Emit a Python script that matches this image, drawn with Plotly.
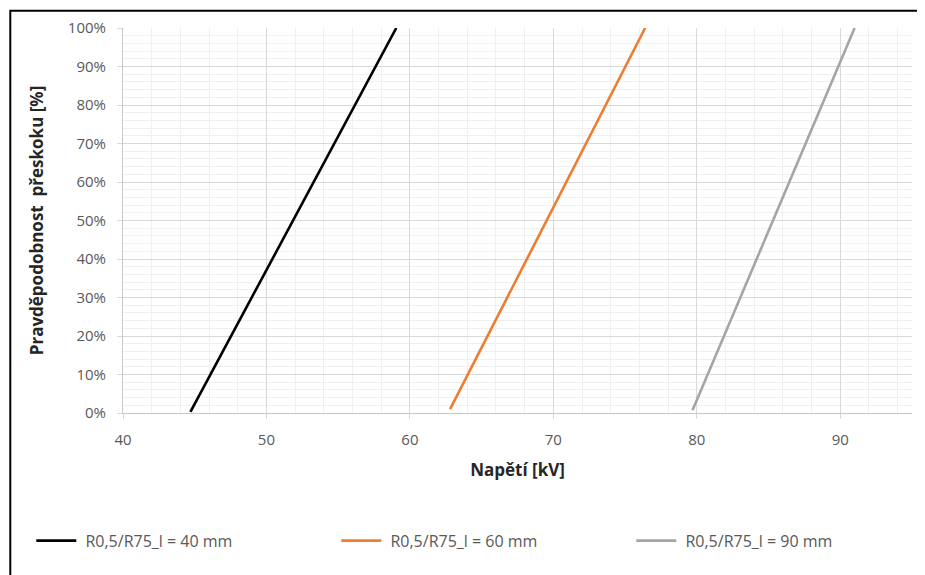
import plotly.graph_objects as go

# Data (voltage kV vs. flashover probability %)
series_names = ["R0,5/R75_l = 40 mm", "R0,5/R75_l = 60 mm", "R0,5/R75_l = 90 mm"]
x_40 = [44.7, 59.05]
y_40 = [0.3, 100]
x_60 = [62.8, 76.4]
y_60 = [1.0, 100]
x_90 = [79.7, 91.0]
y_90 = [0.7, 100]
colors = ["#000000", "#ED7D31", "#A5A5A5"]

y_ticks = list(range(0, 101, 10))
y_ticklabels = [f"{v}%" for v in y_ticks]

W, H = 925, 575
OFF = 8  # page body margin
# plot area in window pixels
PL, PR, PT, PB = 122.7, 911.7, 28.3, 413.3
L = PL - OFF
T = PT - OFF
R = W - (PR - OFF)
B = H - (PB - OFF)
pw, ph = PR - PL, PB - PT

def px2x(p):
    return (p - PL) / pw

def py2y(p):
    return (PB - p) / ph

legend_ids = ["legend", "legend2", "legend3"]
legend_px = [31, 336, 631]

fig = go.Figure()
for name, xs, ys, c, lid in zip(series_names, [x_40, x_60, x_90], [y_40, y_60, y_90], colors, legend_ids):
    fig.add_trace(go.Scatter(x=xs, y=ys, mode="lines", name="\u00a0" + name,
                             line=dict(color=c, width=2.6), legend=lid))

tickfont = dict(family="Open Sans", size=15, color="#595959")
titlefont = dict(family="Open Sans", size=17, color="#262626")
legend_common = dict(orientation="h", xanchor="left", yanchor="middle", itemwidth=40,
                     bgcolor="rgba(0,0,0,0)",
                     font=dict(family="Open Sans", size=16, color="#595959"))

fig.update_layout(
    width=W, height=H,
    margin=dict(l=L, r=R, t=T, b=B, autoexpand=False),
    paper_bgcolor="white", plot_bgcolor="white",
    font=dict(family="Open Sans"),
    xaxis=dict(range=[40, 95], dtick=10, tick0=40, showgrid=True,
               gridcolor="#d9d9d9", gridwidth=1,
               minor=dict(dtick=2, showgrid=True, gridcolor="#f0f0f0", ticks=""),
               ticks="outside", ticklen=5, tickcolor="#d9d9d9",
               showline=True, linecolor="#c8c8c8", zeroline=False,
               tickfont=tickfont, ticklabelstandoff=8,
               title=dict(text="<b>Napětí [kV]</b>", font=titlefont, standoff=16)),
    yaxis=dict(range=[0, 100], tickvals=y_ticks, ticktext=y_ticklabels,
               showgrid=True, gridcolor="#d9d9d9", gridwidth=1,
               minor=dict(dtick=2, showgrid=True, gridcolor="#f0f0f0", ticks=""),
               ticks="outside", ticklen=5, tickcolor="#d9d9d9",
               showline=True, linecolor="#c8c8c8", zeroline=False,
               tickfont=tickfont, ticklabelstandoff=8,
               title=dict(text="<b>Pravděpodobnost \u00a0přeskoku [%]</b>", font=titlefont, standoff=19)),
    legend=dict(x=px2x(legend_px[0]), y=py2y(541), **legend_common),
    legend2=dict(x=px2x(legend_px[1]), y=py2y(541), **legend_common),
    legend3=dict(x=px2x(legend_px[2]), y=py2y(541), **legend_common),
    showlegend=True,
)

fig.add_shape(type="rect", xref="paper", yref="paper",
              x0=px2x(10), x1=px2x(924), y0=py2y(600), y1=py2y(11),
              line=dict(color="black", width=2), fillcolor="rgba(0,0,0,0)", layer="above")

fig.write_html("out.html")
